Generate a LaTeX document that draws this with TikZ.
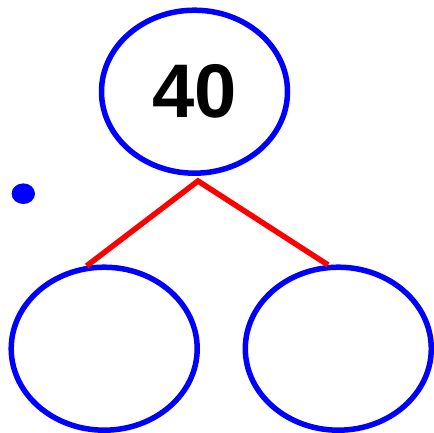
\documentclass[tikz,border=0pt]{standalone}
\usepackage{fontspec}
\setmainfont{Liberation Sans}
\usetikzlibrary{shapes.geometric}

\begin{document}
\begin{tikzpicture}[x=1pt,y=-1pt,
    bubble/.style={draw=blue,line width=5.5pt,ellipse,inner sep=0pt,minimum width=186pt,minimum height=163pt},
    branch/.style={draw=red,line width=5.5pt}]
    \useasboundingbox (0,0) rectangle (434,433);
    \node[bubble] (whole) at (194.5,91.7) {\fontsize{76}{76}\selectfont\bfseries 40};
    \node[bubble] (partleft) at (104.2,348.7) {};
    \node[bubble] (partright) at (338.3,348.7) {};
    \coordinate (fork) at (198,181);
    \draw[branch] (partleft.102) -- (fork) -- (partright.97);
    \fill[blue] (23.3,193.7) ellipse (11.7pt and 10.3pt);
\end{tikzpicture}
\end{document}
